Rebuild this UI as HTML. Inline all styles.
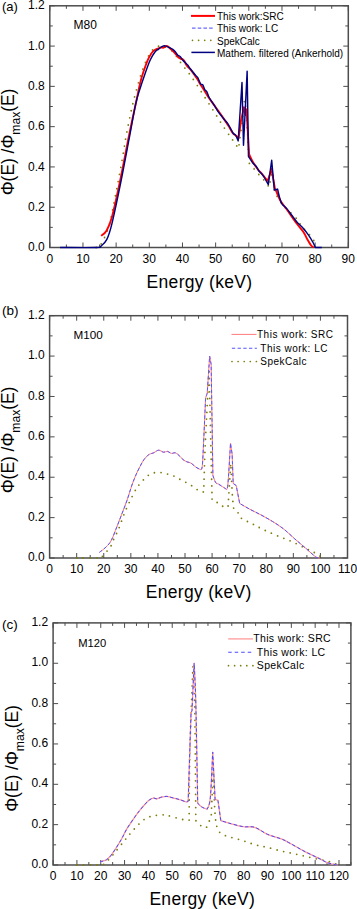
<!DOCTYPE html>
<html><head><meta charset="utf-8"><style>
html,body{margin:0;padding:0;background:#fff;width:357px;height:909px;overflow:hidden}
svg{display:block;font-family:"Liberation Sans", sans-serif}
</style></head><body>
<svg width="357" height="909" viewBox="0 0 357 909" font-family='"Liberation Sans", sans-serif' fill="#000">
<rect width="357" height="909" fill="#fff"/>
<rect x="49.80" y="5.80" width="298.50" height="241.70" fill="none" stroke="#4d4d4d" stroke-width="1.5"/>
<path d="M49.80 247.50 v-5.00 M49.80 5.80 v5.00 M66.38 247.50 v-3.00 M66.38 5.80 v3.00 M82.97 247.50 v-5.00 M82.97 5.80 v5.00 M99.55 247.50 v-3.00 M99.55 5.80 v3.00 M116.13 247.50 v-5.00 M116.13 5.80 v5.00 M132.72 247.50 v-3.00 M132.72 5.80 v3.00 M149.30 247.50 v-5.00 M149.30 5.80 v5.00 M165.88 247.50 v-3.00 M165.88 5.80 v3.00 M182.47 247.50 v-5.00 M182.47 5.80 v5.00 M199.05 247.50 v-3.00 M199.05 5.80 v3.00 M215.63 247.50 v-5.00 M215.63 5.80 v5.00 M232.22 247.50 v-3.00 M232.22 5.80 v3.00 M248.80 247.50 v-5.00 M248.80 5.80 v5.00 M265.38 247.50 v-3.00 M265.38 5.80 v3.00 M281.97 247.50 v-5.00 M281.97 5.80 v5.00 M298.55 247.50 v-3.00 M298.55 5.80 v3.00 M315.13 247.50 v-5.00 M315.13 5.80 v5.00 M331.72 247.50 v-3.00 M331.72 5.80 v3.00 M348.30 247.50 v-5.00 M348.30 5.80 v5.00 M49.80 247.50 h5.00 M348.30 247.50 h-5.00 M49.80 227.36 h3.00 M348.30 227.36 h-3.00 M49.80 207.22 h5.00 M348.30 207.22 h-5.00 M49.80 187.07 h3.00 M348.30 187.07 h-3.00 M49.80 166.93 h5.00 M348.30 166.93 h-5.00 M49.80 146.79 h3.00 M348.30 146.79 h-3.00 M49.80 126.65 h5.00 M348.30 126.65 h-5.00 M49.80 106.51 h3.00 M348.30 106.51 h-3.00 M49.80 86.37 h5.00 M348.30 86.37 h-5.00 M49.80 66.22 h3.00 M348.30 66.22 h-3.00 M49.80 46.08 h5.00 M348.30 46.08 h-5.00 M49.80 25.94 h3.00 M348.30 25.94 h-3.00 M49.80 5.80 h5.00 M348.30 5.80 h-5.00" stroke="#4d4d4d" stroke-width="1" fill="none"/>
<text x="49.80" y="262.90" text-anchor="middle" font-size="12">0</text>
<text x="82.97" y="262.90" text-anchor="middle" font-size="12">10</text>
<text x="116.13" y="262.90" text-anchor="middle" font-size="12">20</text>
<text x="149.30" y="262.90" text-anchor="middle" font-size="12">30</text>
<text x="182.47" y="262.90" text-anchor="middle" font-size="12">40</text>
<text x="215.63" y="262.90" text-anchor="middle" font-size="12">50</text>
<text x="248.80" y="262.90" text-anchor="middle" font-size="12">60</text>
<text x="281.97" y="262.90" text-anchor="middle" font-size="12">70</text>
<text x="315.13" y="262.90" text-anchor="middle" font-size="12">80</text>
<text x="348.30" y="262.90" text-anchor="middle" font-size="12">90</text>
<text x="44.80" y="251.10" text-anchor="end" font-size="12">0.0</text>
<text x="44.80" y="210.82" text-anchor="end" font-size="12">0.2</text>
<text x="44.80" y="170.53" text-anchor="end" font-size="12">0.4</text>
<text x="44.80" y="130.25" text-anchor="end" font-size="12">0.6</text>
<text x="44.80" y="89.97" text-anchor="end" font-size="12">0.8</text>
<text x="44.80" y="49.68" text-anchor="end" font-size="12">1.0</text>
<text x="44.80" y="9.40" text-anchor="end" font-size="12">1.2</text>
<path d="M96.23 247.50 C96.84 247.27 97.84 249.41 99.88 246.09 C101.93 242.77 105.96 235.72 108.50 227.56 C111.05 219.40 112.87 208.39 115.14 197.15 C117.40 185.90 120.17 170.83 122.10 160.09 C124.04 149.34 124.88 142.39 126.75 132.69 C128.62 122.99 130.72 112.25 133.31 101.88 C135.91 91.50 139.34 78.85 142.33 70.45 C145.33 62.06 148.31 55.58 151.29 51.52 C154.28 47.46 156.87 46.25 160.25 46.08 C163.62 45.92 167.98 47.56 171.52 50.51 C175.06 53.47 178.49 59.91 181.47 63.81 C184.46 67.70 186.66 70.05 189.43 73.88 C192.20 77.71 195.29 82.51 198.09 86.77 C200.89 91.03 203.58 95.33 206.21 99.46 C208.85 103.59 211.34 107.48 213.91 111.54 C216.47 115.61 218.97 119.77 221.60 123.83 C224.24 127.89 227.63 132.86 229.73 135.92 C231.83 138.97 232.74 140.04 234.21 142.16 C235.67 144.27 237.80 147.53 238.52 148.60 C239.07 144.51 240.84 132.05 241.83 124.03 C242.83 116.01 244.05 104.39 244.49 100.47 C244.71 101.61 245.59 106.17 245.81 107.31 C246.09 111.41 246.92 122.59 247.47 131.89 C248.03 141.19 248.86 157.90 249.13 163.11 C249.85 163.95 251.78 166.19 253.44 168.14 C255.10 170.09 257.20 172.64 259.08 174.79 C260.96 176.94 263.06 178.98 264.72 181.03 C266.38 183.08 268.31 186.07 269.03 187.07 C269.58 184.49 271.80 174.15 272.35 171.57 C272.74 174.92 274.28 188.35 274.67 191.71 C275.89 193.79 278.68 200.13 281.97 204.20 C285.26 208.26 291.50 212.96 294.40 216.08 C297.31 219.20 297.73 220.68 299.41 222.93 C301.09 225.18 302.81 227.63 304.49 229.57 C306.17 231.52 307.72 232.46 309.50 234.61 C311.27 236.76 314.19 241.16 315.13 242.46" fill="none" stroke="#7d7d0a" stroke-width="1.8" stroke-linecap="round" stroke-linejoin="round" stroke-dasharray="0 7.2"/>
<path d="M101.21 235.82 C102.09 234.98 104.75 233.84 106.52 230.78 C108.28 227.73 109.67 225.28 111.82 217.49 C113.98 209.70 116.52 198.02 119.45 184.05 C122.38 170.09 126.64 147.30 129.40 133.70 C132.16 120.10 134.26 110.81 136.03 102.48 C137.80 94.15 138.79 88.82 140.01 83.75 C141.23 78.68 141.96 76.26 143.36 72.07 C144.76 67.87 146.72 62.10 148.40 58.57 C150.08 55.05 151.48 52.73 153.45 50.92 C155.41 49.10 158.50 48.23 160.18 47.69 C161.86 47.16 162.41 48.00 163.53 47.69 C164.65 47.39 165.62 45.61 166.88 45.88 C168.14 46.15 169.69 48.03 171.09 49.31 C172.49 50.58 174.18 52.29 175.30 53.54 C176.42 54.78 176.98 55.92 177.82 56.76 C178.66 57.60 179.37 58.00 180.34 58.57 C181.32 59.14 182.58 58.94 183.69 60.18 C184.81 61.42 185.92 64.48 187.04 66.02 C188.17 67.57 188.75 67.33 190.43 69.45 C192.11 71.56 195.66 76.53 197.13 78.71 C198.59 80.89 198.17 80.83 199.22 82.54 C200.26 84.25 201.76 86.40 203.39 88.99 C205.03 91.57 206.90 94.93 209.00 98.05 C211.10 101.17 213.67 104.46 216.00 107.72 C218.33 110.97 220.90 114.53 223.00 117.59 C225.10 120.64 226.97 123.46 228.60 126.05 C230.24 128.63 231.41 131.35 232.81 133.10 C234.22 134.84 236.08 135.61 237.03 136.52 C237.98 137.43 238.27 138.20 238.52 138.53 C238.96 135.38 240.73 122.76 241.17 119.60 C241.64 117.55 243.52 109.36 243.99 107.31 C244.22 108.59 245.15 113.69 245.38 114.97 C245.57 114.03 246.30 110.27 246.48 109.33 C246.92 116.81 248.69 146.76 249.13 154.24 C249.71 155.45 251.20 159.04 252.61 161.50 C254.02 163.95 255.91 166.73 257.59 168.95 C259.27 171.16 261.01 172.77 262.70 174.79 C264.38 176.80 266.87 179.99 267.70 181.03 C268.34 179.02 270.88 170.96 271.52 168.95 C272.04 172.00 274.14 184.22 274.67 187.28 C275.58 189.42 278.09 196.47 280.11 200.17 C282.13 203.86 284.01 205.50 286.81 209.43 C289.61 213.36 294.09 219.94 296.89 223.73 C299.69 227.53 301.91 229.67 303.59 232.19 C305.28 234.71 305.75 236.62 307.01 238.84 C308.27 241.05 310.04 244.04 311.15 245.49 C312.27 246.93 313.28 247.16 313.71 247.50" fill="none" stroke="#ff0000" stroke-width="1.9" stroke-linecap="butt" stroke-linejoin="round"/>
<path d="M60.08 247.50 C66.11 247.50 89.38 247.77 96.23 247.50 C103.09 247.23 99.44 247.23 101.21 245.89 C102.98 244.55 105.08 243.07 106.85 239.44 C108.62 235.82 109.61 233.10 111.82 224.14 C114.03 215.17 117.27 199.70 120.11 185.67 C122.96 171.63 126.32 153.51 128.90 139.94 C131.48 126.38 133.75 112.82 135.60 104.29 C137.45 95.77 138.44 93.89 140.01 88.78 C141.59 83.68 143.37 78.44 145.05 73.68 C146.74 68.91 148.42 63.84 150.10 60.18 C151.78 56.52 153.74 53.54 155.14 51.72 C156.54 49.91 157.37 50.15 158.49 49.31 C159.60 48.47 160.71 47.26 161.84 46.69 C162.96 46.12 163.96 45.71 165.22 45.88 C166.48 46.05 168.14 47.12 169.40 47.69 C170.66 48.27 171.80 48.63 172.78 49.31 C173.77 49.98 174.46 50.75 175.30 51.72 C176.14 52.70 176.98 54.31 177.82 55.15 C178.66 55.99 179.50 55.92 180.34 56.76 C181.18 57.60 182.02 59.18 182.86 60.18 C183.70 61.19 184.55 61.96 185.39 62.80 C186.23 63.64 187.21 64.38 187.91 65.22 C188.60 66.06 188.87 66.86 189.56 67.84 C190.26 68.81 191.10 69.82 192.08 71.06 C193.07 72.30 194.52 74.18 195.47 75.29 C196.42 76.40 196.93 76.26 197.79 77.71 C198.65 79.15 199.79 82.77 200.61 83.95 C201.43 85.12 202.00 83.82 202.70 84.76 C203.39 85.70 204.09 88.41 204.79 89.59 C205.49 90.76 206.21 90.53 206.91 91.80 C207.61 93.08 207.95 95.26 209.00 97.24 C210.05 99.22 211.81 101.47 213.21 103.69 C214.62 105.90 216.03 108.46 217.42 110.54 C218.82 112.62 220.32 114.53 221.60 116.18 C222.89 117.82 224.07 119.13 225.12 120.41 C226.17 121.68 226.97 122.42 227.91 123.83 C228.84 125.24 229.79 127.22 230.72 128.87 C231.66 130.51 232.70 132.66 233.51 133.70 C234.32 134.74 234.82 133.90 235.60 135.11 C236.38 136.32 237.76 139.98 238.19 140.95 C238.82 131.22 241.37 92.27 242.00 82.54 C242.25 92.98 243.24 134.74 243.49 145.18 C244.10 132.86 246.53 83.58 247.14 71.26 C247.36 85.46 248.25 142.26 248.47 156.46 C249.16 157.50 251.31 161.03 252.61 162.70 C253.92 164.38 255.25 165.15 256.30 166.53 C257.35 167.91 257.75 169.42 258.92 170.96 C260.08 172.51 261.73 173.51 263.29 175.80 C264.86 178.08 267.47 183.18 268.30 184.66 C268.87 180.60 271.12 164.35 271.69 160.29 C272.13 165.25 273.90 185.13 274.34 190.10 C274.88 189.93 277.05 189.26 277.59 189.09 C277.85 190.23 278.48 193.52 279.18 195.94 C279.88 198.35 280.53 201.48 281.80 203.59 C283.07 205.71 285.15 206.68 286.81 208.63 C288.47 210.57 290.10 213.06 291.78 215.27 C293.46 217.49 294.92 219.67 296.89 221.92 C298.86 224.17 301.62 226.52 303.59 228.77 C305.56 231.02 307.15 233.17 308.70 235.41 C310.25 237.66 311.79 240.25 312.91 242.26 C314.03 244.28 314.98 246.63 315.40 247.50 C316.46 247.50 320.71 247.50 321.77 247.50" fill="none" stroke="#000080" stroke-width="1.45" stroke-linecap="butt" stroke-linejoin="round"/>
<text x="2" y="11.3" font-size="13">(a)</text>
<text x="73.6" y="29.3" font-size="12">M80</text>
<path d="M191 15.9h24" stroke="#ff0000" stroke-width="2"/>
<path d="M192 28.2h22" stroke="#6a6aff" stroke-width="1.2" stroke-dasharray="3.6 2.1"/>
<path d="M192.5 40.3h23" stroke="#7d7d0a" stroke-width="1.7" stroke-linecap="round" stroke-dasharray="0 6.1"/>
<path d="M191.4 52.4h23.5" stroke="#000080" stroke-width="1.5"/>
<text x="217" y="20.1" font-size="10">This work:SRC</text>
<text x="217" y="32.4" font-size="10">This work: LC</text>
<text x="217" y="44.6" font-size="10">SpekCalc</text>
<text x="217" y="56.9" font-size="10">Mathem. filtered (Ankerhold)</text>
<text transform="translate(13.50 195.30) rotate(-90)" font-size="17.5" letter-spacing="-0.05">&#934;(E) /&#934;<tspan font-size="12.2" dy="6.0">max</tspan><tspan dy="-6.0">(E)</tspan></text>
<text x="146.6" y="288.3" font-size="17.5" letter-spacing="0.3">Energy (keV)</text>
<rect x="49.60" y="315.70" width="297.90" height="242.30" fill="none" stroke="#4d4d4d" stroke-width="1.5"/>
<path d="M49.60 558.00 v-5.00 M49.60 315.70 v5.00 M63.14 558.00 v-3.00 M63.14 315.70 v3.00 M76.68 558.00 v-5.00 M76.68 315.70 v5.00 M90.22 558.00 v-3.00 M90.22 315.70 v3.00 M103.76 558.00 v-5.00 M103.76 315.70 v5.00 M117.30 558.00 v-3.00 M117.30 315.70 v3.00 M130.85 558.00 v-5.00 M130.85 315.70 v5.00 M144.39 558.00 v-3.00 M144.39 315.70 v3.00 M157.93 558.00 v-5.00 M157.93 315.70 v5.00 M171.47 558.00 v-3.00 M171.47 315.70 v3.00 M185.01 558.00 v-5.00 M185.01 315.70 v5.00 M198.55 558.00 v-3.00 M198.55 315.70 v3.00 M212.09 558.00 v-5.00 M212.09 315.70 v5.00 M225.63 558.00 v-3.00 M225.63 315.70 v3.00 M239.17 558.00 v-5.00 M239.17 315.70 v5.00 M252.71 558.00 v-3.00 M252.71 315.70 v3.00 M266.25 558.00 v-5.00 M266.25 315.70 v5.00 M279.80 558.00 v-3.00 M279.80 315.70 v3.00 M293.34 558.00 v-5.00 M293.34 315.70 v5.00 M306.88 558.00 v-3.00 M306.88 315.70 v3.00 M320.42 558.00 v-5.00 M320.42 315.70 v5.00 M333.96 558.00 v-3.00 M333.96 315.70 v3.00 M347.50 558.00 v-5.00 M347.50 315.70 v5.00 M49.60 558.00 h5.00 M347.50 558.00 h-5.00 M49.60 537.81 h3.00 M347.50 537.81 h-3.00 M49.60 517.62 h5.00 M347.50 517.62 h-5.00 M49.60 497.43 h3.00 M347.50 497.43 h-3.00 M49.60 477.23 h5.00 M347.50 477.23 h-5.00 M49.60 457.04 h3.00 M347.50 457.04 h-3.00 M49.60 436.85 h5.00 M347.50 436.85 h-5.00 M49.60 416.66 h3.00 M347.50 416.66 h-3.00 M49.60 396.47 h5.00 M347.50 396.47 h-5.00 M49.60 376.27 h3.00 M347.50 376.27 h-3.00 M49.60 356.08 h5.00 M347.50 356.08 h-5.00 M49.60 335.89 h3.00 M347.50 335.89 h-3.00 M49.60 315.70 h5.00 M347.50 315.70 h-5.00" stroke="#4d4d4d" stroke-width="1" fill="none"/>
<text x="49.60" y="573.40" text-anchor="middle" font-size="12">0</text>
<text x="76.68" y="573.40" text-anchor="middle" font-size="12">10</text>
<text x="103.76" y="573.40" text-anchor="middle" font-size="12">20</text>
<text x="130.85" y="573.40" text-anchor="middle" font-size="12">30</text>
<text x="157.93" y="573.40" text-anchor="middle" font-size="12">40</text>
<text x="185.01" y="573.40" text-anchor="middle" font-size="12">50</text>
<text x="212.09" y="573.40" text-anchor="middle" font-size="12">60</text>
<text x="239.17" y="573.40" text-anchor="middle" font-size="12">70</text>
<text x="266.25" y="573.40" text-anchor="middle" font-size="12">80</text>
<text x="293.34" y="573.40" text-anchor="middle" font-size="12">90</text>
<text x="320.42" y="573.40" text-anchor="middle" font-size="12">100</text>
<text x="347.50" y="573.40" text-anchor="middle" font-size="12">110</text>
<text x="44.60" y="561.10" text-anchor="end" font-size="12">0.0</text>
<text x="44.60" y="520.72" text-anchor="end" font-size="12">0.2</text>
<text x="44.60" y="480.33" text-anchor="end" font-size="12">0.4</text>
<text x="44.60" y="439.95" text-anchor="end" font-size="12">0.6</text>
<text x="44.60" y="399.57" text-anchor="end" font-size="12">0.8</text>
<text x="44.60" y="359.18" text-anchor="end" font-size="12">1.0</text>
<text x="44.60" y="318.80" text-anchor="end" font-size="12">1.2</text>
<path d="M76.68 558.00 C80.74 558.00 96.99 558.00 101.06 558.00 C102.05 556.86 105.30 553.25 107.01 551.13 C108.73 549.01 110.17 547.40 111.35 545.28 C112.52 543.16 113.11 540.53 114.05 538.41 C115.00 536.29 116.13 534.48 117.03 532.56 C117.94 530.64 118.30 529.97 119.47 526.90 C120.64 523.84 122.40 518.36 124.07 514.18 C125.75 510.01 127.55 505.94 129.49 501.87 C131.43 497.80 134.00 492.75 135.72 489.75 C137.44 486.76 138.15 485.88 139.78 483.90 C141.41 481.91 143.66 479.52 145.50 477.84 C147.33 476.16 148.75 474.71 150.78 473.80 C152.80 472.89 155.53 472.52 157.66 472.39 C159.78 472.25 161.51 472.59 163.53 472.99 C165.56 473.40 167.79 474.17 169.82 474.81 C171.84 475.45 173.73 475.92 175.69 476.83 C177.65 477.74 179.51 479.15 181.57 480.26 C183.63 481.37 185.98 482.35 188.04 483.49 C190.10 484.64 191.96 485.81 193.92 487.13 C195.88 488.44 198.16 490.56 199.80 491.37 C201.43 492.18 203.07 491.87 203.72 491.97 C203.81 488.91 203.97 481.78 204.24 473.60 C204.50 465.42 204.51 460.41 205.32 442.91 C206.13 425.41 208.48 380.99 209.11 368.60 C209.52 386.40 211.05 453.44 211.55 475.42 C212.05 497.39 212.00 496.28 212.09 500.45 C213.26 500.96 217.01 502.27 219.13 503.48 C221.25 504.69 223.33 507.25 224.82 507.72 C226.31 508.19 227.53 506.54 228.07 506.31 C228.52 499.17 230.33 470.64 230.78 463.50 C231.05 468.85 231.91 488.04 232.40 495.61 C232.90 503.18 233.53 506.71 233.76 508.93 C234.52 509.64 237.14 511.66 238.36 513.17 C239.58 514.69 238.68 516.20 241.07 518.02 C243.46 519.84 248.88 522.09 252.71 524.08 C256.55 526.06 259.89 527.95 264.09 529.93 C268.29 531.92 273.25 534.04 277.90 535.99 C282.55 537.94 287.29 539.56 291.98 541.64 C296.68 543.73 302.09 546.56 306.06 548.51 C310.04 550.46 313.06 551.77 315.81 553.36 C318.57 554.94 321.46 557.23 322.58 558.00" fill="none" stroke="#7d7d0a" stroke-width="1.8" stroke-linecap="round" stroke-linejoin="round" stroke-dasharray="0 6.7"/>
<path d="M99.43 552.35 C100.56 551.44 104.21 548.91 106.20 546.89 C108.19 544.88 109.59 543.53 111.35 540.23 C113.11 536.93 115.00 531.52 116.76 527.11 C118.52 522.70 120.19 518.26 121.91 513.78 C123.62 509.30 125.38 505.03 127.05 500.25 C128.72 495.47 130.39 489.45 131.93 485.11 C133.46 480.77 134.92 477.30 136.26 474.20 C137.61 471.11 138.72 468.95 140.00 466.53 C141.28 464.11 142.45 461.65 143.93 459.67 C145.40 457.68 147.19 455.76 148.83 454.62 C150.46 453.47 152.10 453.54 153.73 452.80 C155.36 452.06 157.00 450.28 158.63 450.18 C160.27 450.08 162.06 451.99 163.53 452.20 C165.00 452.40 166.16 451.19 167.46 451.39 C168.76 451.59 170.06 453.17 171.36 453.41 C172.66 453.64 173.98 452.43 175.29 452.80 C176.60 453.17 177.90 454.48 179.21 455.63 C180.52 456.77 181.83 458.62 183.14 459.67 C184.45 460.71 185.76 461.32 187.07 461.89 C188.37 462.46 189.50 462.22 190.97 463.10 C192.43 463.97 194.23 466.03 195.87 467.14 C197.51 468.25 199.98 469.32 200.80 469.76 C201.06 469.06 201.86 470.44 202.34 465.52 C202.82 460.61 203.15 451.52 203.70 440.28 C204.24 429.04 205.28 405.12 205.59 398.08 C205.86 397.27 206.95 394.04 207.22 393.24 C207.62 387.04 209.25 362.28 209.65 356.08 C209.90 357.46 210.89 362.98 211.14 364.36 C211.44 382.87 212.61 456.91 212.90 475.42 C213.35 476.59 214.62 481.00 215.61 482.48 C216.60 483.96 217.19 483.26 218.86 484.30 C220.53 485.34 224.50 488.00 225.63 488.74 C225.99 488.14 226.99 492.68 227.80 485.11 C228.61 477.54 230.06 450.28 230.51 443.31 C230.78 445.13 231.86 452.40 232.13 454.21 C232.31 459.09 233.03 478.61 233.21 483.49 C233.71 483.83 235.70 485.18 236.19 485.51 C236.78 488.51 239.13 500.49 239.71 503.48 C241.43 504.46 246.44 507.42 250.01 509.34 C253.57 511.26 257.36 512.97 261.11 514.99 C264.86 517.01 268.74 519.13 272.48 521.45 C276.23 523.78 279.89 526.03 283.59 528.92 C287.29 531.82 290.94 535.55 294.69 538.82 C298.44 542.08 302.54 545.48 306.06 548.51 C309.59 551.54 313.51 555.41 315.81 556.99 C318.12 558.57 319.20 557.83 319.88 558.00" fill="none" stroke="#ff7a7a" stroke-width="1.0" stroke-linecap="butt" stroke-linejoin="round"/>
<path d="M99.43 552.35 C100.56 551.44 104.21 548.91 106.20 546.89 C108.19 544.88 109.59 543.53 111.35 540.23 C113.11 536.93 115.00 531.52 116.76 527.11 C118.52 522.70 120.19 518.26 121.91 513.78 C123.62 509.30 125.38 505.03 127.05 500.25 C128.72 495.47 130.39 489.45 131.93 485.11 C133.46 480.77 134.92 477.30 136.26 474.20 C137.61 471.11 138.72 468.95 140.00 466.53 C141.28 464.11 142.45 461.65 143.93 459.67 C145.40 457.68 147.19 455.76 148.83 454.62 C150.46 453.47 152.10 453.54 153.73 452.80 C155.36 452.06 157.00 450.28 158.63 450.18 C160.27 450.08 162.06 451.99 163.53 452.20 C165.00 452.40 166.16 451.19 167.46 451.39 C168.76 451.59 170.06 453.17 171.36 453.41 C172.66 453.64 173.98 452.43 175.29 452.80 C176.60 453.17 177.90 454.48 179.21 455.63 C180.52 456.77 181.83 458.62 183.14 459.67 C184.45 460.71 185.76 461.32 187.07 461.89 C188.37 462.46 189.50 462.22 190.97 463.10 C192.43 463.97 194.23 466.03 195.87 467.14 C197.51 468.25 199.98 469.32 200.80 469.76 C201.06 469.06 201.86 470.44 202.34 465.52 C202.82 460.61 203.15 451.52 203.70 440.28 C204.24 429.04 205.28 405.12 205.59 398.08 C205.86 397.27 206.95 394.04 207.22 393.24 C207.62 387.04 209.25 362.28 209.65 356.08 C209.90 357.46 210.89 362.98 211.14 364.36 C211.44 382.87 212.61 456.91 212.90 475.42 C213.35 476.59 214.62 481.00 215.61 482.48 C216.60 483.96 217.19 483.26 218.86 484.30 C220.53 485.34 224.50 488.00 225.63 488.74 C225.99 488.14 226.99 492.68 227.80 485.11 C228.61 477.54 230.06 450.28 230.51 443.31 C230.78 445.13 231.86 452.40 232.13 454.21 C232.31 459.09 233.03 478.61 233.21 483.49 C233.71 483.83 235.70 485.18 236.19 485.51 C236.78 488.51 239.13 500.49 239.71 503.48 C241.43 504.46 246.44 507.42 250.01 509.34 C253.57 511.26 257.36 512.97 261.11 514.99 C264.86 517.01 268.74 519.13 272.48 521.45 C276.23 523.78 279.89 526.03 283.59 528.92 C287.29 531.82 290.94 535.55 294.69 538.82 C298.44 542.08 302.54 545.48 306.06 548.51 C309.59 551.54 313.51 555.41 315.81 556.99 C318.12 558.57 319.20 557.83 319.88 558.00" fill="none" stroke="#5555ff" stroke-width="1.0" stroke-linecap="butt" stroke-linejoin="round" stroke-dasharray="3.3 2.4"/>
<text x="2" y="315" font-size="13.5">(b)</text>
<text x="73.6" y="339.3" font-size="11.7">M100</text>
<path d="M231.5 334.4h25" stroke="#ff7a7a" stroke-width="1"/>
<path d="M231.9 348.3h25" stroke="#5555ff" stroke-width="1.1" stroke-dasharray="3.3 2.4"/>
<path d="M232 361.5h25" stroke="#7d7d0a" stroke-width="1.7" stroke-linecap="round" stroke-dasharray="0 6.1"/>
<text x="257" y="337.8" font-size="10" letter-spacing="0.5">This work: SRC</text>
<text x="260.3" y="351.6" font-size="10" letter-spacing="0.5">This work: LC</text>
<text x="260.3" y="365.2" font-size="10" letter-spacing="0.5">SpekCalc</text>
<text transform="translate(13.90 493.30) rotate(-90)" font-size="17.5" letter-spacing="-0.05">&#934;(E) /&#934;<tspan font-size="12.2" dy="6.0">max</tspan><tspan dy="-6.0">(E)</tspan></text>
<text x="145.8" y="597.9" font-size="17.5" letter-spacing="0.3">Energy (keV)</text>
<rect x="53.10" y="622.90" width="297.80" height="242.10" fill="none" stroke="#4d4d4d" stroke-width="1.5"/>
<path d="M53.10 865.00 v-5.00 M53.10 622.90 v5.00 M65.01 865.00 v-3.00 M65.01 622.90 v3.00 M76.92 865.00 v-5.00 M76.92 622.90 v5.00 M88.84 865.00 v-3.00 M88.84 622.90 v3.00 M100.75 865.00 v-5.00 M100.75 622.90 v5.00 M112.66 865.00 v-3.00 M112.66 622.90 v3.00 M124.57 865.00 v-5.00 M124.57 622.90 v5.00 M136.48 865.00 v-3.00 M136.48 622.90 v3.00 M148.40 865.00 v-5.00 M148.40 622.90 v5.00 M160.31 865.00 v-3.00 M160.31 622.90 v3.00 M172.22 865.00 v-5.00 M172.22 622.90 v5.00 M184.13 865.00 v-3.00 M184.13 622.90 v3.00 M196.04 865.00 v-5.00 M196.04 622.90 v5.00 M207.96 865.00 v-3.00 M207.96 622.90 v3.00 M219.87 865.00 v-5.00 M219.87 622.90 v5.00 M231.78 865.00 v-3.00 M231.78 622.90 v3.00 M243.69 865.00 v-5.00 M243.69 622.90 v5.00 M255.60 865.00 v-3.00 M255.60 622.90 v3.00 M267.52 865.00 v-5.00 M267.52 622.90 v5.00 M279.43 865.00 v-3.00 M279.43 622.90 v3.00 M291.34 865.00 v-5.00 M291.34 622.90 v5.00 M303.25 865.00 v-3.00 M303.25 622.90 v3.00 M315.16 865.00 v-5.00 M315.16 622.90 v5.00 M327.08 865.00 v-3.00 M327.08 622.90 v3.00 M338.99 865.00 v-5.00 M338.99 622.90 v5.00 M350.90 865.00 v-3.00 M350.90 622.90 v3.00 M53.10 865.00 h5.00 M350.90 865.00 h-5.00 M53.10 844.83 h3.00 M350.90 844.83 h-3.00 M53.10 824.65 h5.00 M350.90 824.65 h-5.00 M53.10 804.48 h3.00 M350.90 804.48 h-3.00 M53.10 784.30 h5.00 M350.90 784.30 h-5.00 M53.10 764.12 h3.00 M350.90 764.12 h-3.00 M53.10 743.95 h5.00 M350.90 743.95 h-5.00 M53.10 723.77 h3.00 M350.90 723.77 h-3.00 M53.10 703.60 h5.00 M350.90 703.60 h-5.00 M53.10 683.42 h3.00 M350.90 683.42 h-3.00 M53.10 663.25 h5.00 M350.90 663.25 h-5.00 M53.10 643.07 h3.00 M350.90 643.07 h-3.00 M53.10 622.90 h5.00 M350.90 622.90 h-5.00" stroke="#4d4d4d" stroke-width="1" fill="none"/>
<text x="53.10" y="880.40" text-anchor="middle" font-size="12">0</text>
<text x="76.92" y="880.40" text-anchor="middle" font-size="12">10</text>
<text x="100.75" y="880.40" text-anchor="middle" font-size="12">20</text>
<text x="124.57" y="880.40" text-anchor="middle" font-size="12">30</text>
<text x="148.40" y="880.40" text-anchor="middle" font-size="12">40</text>
<text x="172.22" y="880.40" text-anchor="middle" font-size="12">50</text>
<text x="196.04" y="880.40" text-anchor="middle" font-size="12">60</text>
<text x="219.87" y="880.40" text-anchor="middle" font-size="12">70</text>
<text x="243.69" y="880.40" text-anchor="middle" font-size="12">80</text>
<text x="267.52" y="880.40" text-anchor="middle" font-size="12">90</text>
<text x="291.34" y="880.40" text-anchor="middle" font-size="12">100</text>
<text x="315.16" y="880.40" text-anchor="middle" font-size="12">110</text>
<text x="338.99" y="880.40" text-anchor="middle" font-size="12">120</text>
<text x="48.10" y="868.00" text-anchor="end" font-size="12">0.0</text>
<text x="48.10" y="827.65" text-anchor="end" font-size="12">0.2</text>
<text x="48.10" y="787.30" text-anchor="end" font-size="12">0.4</text>
<text x="48.10" y="746.95" text-anchor="end" font-size="12">0.6</text>
<text x="48.10" y="706.60" text-anchor="end" font-size="12">0.8</text>
<text x="48.10" y="666.25" text-anchor="end" font-size="12">1.0</text>
<text x="48.10" y="625.90" text-anchor="end" font-size="12">1.2</text>
<path d="M76.92 865.00 C80.89 865.00 96.78 865.00 100.75 865.00 C101.46 864.73 102.69 865.47 105.04 863.39 C107.38 861.30 111.43 856.46 114.80 852.49 C118.18 848.52 122.71 842.74 125.29 839.58 C127.87 836.42 128.58 835.51 130.29 833.53 C132.00 831.54 133.70 829.63 135.53 827.68 C137.36 825.73 139.30 823.51 141.25 821.83 C143.19 820.14 145.22 818.56 147.20 817.59 C149.19 816.61 151.22 816.41 153.16 815.97 C155.11 815.54 156.77 815.13 158.88 814.97 C160.98 814.80 163.76 814.73 165.79 814.97 C167.81 815.20 168.13 815.60 171.03 816.38 C173.93 817.15 180.16 818.97 183.18 819.61 C186.20 820.25 188.14 820.11 189.14 820.21 C189.25 808.71 189.21 776.84 189.85 751.21 C190.49 725.59 192.43 680.60 192.95 666.48 C193.26 674.18 194.38 686.99 194.85 712.68 C195.33 738.37 195.65 802.63 195.81 820.62 C196.60 821.42 198.78 824.35 200.57 825.46 C202.36 826.57 204.74 829.05 206.53 827.27 C208.31 825.49 210.50 816.85 211.29 814.76 C211.61 807.37 212.88 777.78 213.20 770.38 C213.44 776.50 214.15 798.09 214.63 807.10 C215.10 816.11 215.82 821.56 216.06 824.45 C216.97 826.03 217.41 831.34 221.54 833.93 C225.67 836.52 235.19 838.17 240.83 839.98 C246.47 841.80 250.92 843.58 255.37 844.83 C259.81 846.07 263.31 846.44 267.52 847.45 C271.72 848.46 276.41 849.87 280.62 850.88 C284.83 851.89 288.76 852.63 292.77 853.50 C296.78 854.37 300.63 855.22 304.68 856.12 C308.73 857.03 312.98 858.04 317.07 858.95 C321.16 859.86 326.20 860.80 329.22 861.57 C332.24 862.34 333.47 863.02 335.18 863.59 C336.88 864.16 338.75 864.76 339.46 865.00" fill="none" stroke="#7d7d0a" stroke-width="1.8" stroke-linecap="round" stroke-linejoin="round" stroke-dasharray="0 6.7"/>
<path d="M100.03 861.77 C101.11 861.44 104.48 861.03 106.47 859.75 C108.45 858.48 109.52 857.40 111.95 854.11 C114.37 850.81 118.50 844.22 121.00 839.98 C123.50 835.75 124.53 832.69 126.95 828.68 C129.38 824.68 133.36 819.07 135.53 815.97 C137.70 812.88 138.41 812.07 139.99 810.12 C141.56 808.17 143.45 805.95 144.99 804.27 C146.53 802.59 147.80 801.08 149.21 800.04 C150.61 798.99 152.13 798.22 153.40 798.02 C154.67 797.82 155.40 798.99 156.81 798.83 C158.21 798.66 160.13 797.41 161.81 797.01 C163.49 796.61 165.22 796.30 166.91 796.40 C168.59 796.51 170.23 797.21 171.91 797.62 C173.59 798.02 175.33 798.36 177.01 798.83 C178.69 799.30 180.46 799.94 181.99 800.44 C183.52 800.94 185.17 801.72 186.20 801.85 C187.24 801.99 187.85 801.35 188.18 801.25 C188.66 786.49 190.56 727.44 191.04 712.68 C191.20 712.34 191.84 711.00 191.99 710.66 C192.35 702.76 193.78 671.15 194.14 663.25 C194.42 669.87 195.21 679.66 195.81 702.99 C196.40 726.33 197.39 786.55 197.71 803.26 C198.47 803.94 200.65 806.32 202.24 807.30 C203.83 808.27 206.41 808.81 207.24 809.12 C207.76 807.20 209.43 807.10 210.34 797.62 C211.25 788.13 212.32 759.79 212.72 752.22 C213.12 760.09 214.71 791.56 215.10 799.43 C215.58 799.60 217.49 800.27 217.96 800.44 C218.44 803.80 220.34 817.25 220.82 820.62 C222.13 821.02 224.95 822.03 228.68 823.04 C232.42 824.04 238.89 825.96 243.22 826.67 C247.54 827.37 250.60 826.00 254.65 827.27 C258.70 828.55 263.07 832.38 267.52 834.33 C271.96 836.28 277.60 837.49 281.33 838.97 C285.07 840.45 286.14 841.19 289.91 843.21 C293.68 845.23 299.28 848.62 303.97 851.08 C308.65 853.53 314.05 855.99 318.02 857.94 C321.99 859.89 324.53 861.60 327.79 862.78 C331.05 863.96 335.93 864.63 337.56 865.00" fill="none" stroke="#ff9a9a" stroke-width="1.3" stroke-linecap="butt" stroke-linejoin="round"/>
<path d="M100.03 861.77 C101.11 861.44 104.48 861.03 106.47 859.75 C108.45 858.48 109.52 857.40 111.95 854.11 C114.37 850.81 118.50 844.22 121.00 839.98 C123.50 835.75 124.53 832.69 126.95 828.68 C129.38 824.68 133.36 819.07 135.53 815.97 C137.70 812.88 138.41 812.07 139.99 810.12 C141.56 808.17 143.45 805.95 144.99 804.27 C146.53 802.59 147.80 801.08 149.21 800.04 C150.61 798.99 152.13 798.22 153.40 798.02 C154.67 797.82 155.40 798.99 156.81 798.83 C158.21 798.66 160.13 797.41 161.81 797.01 C163.49 796.61 165.22 796.30 166.91 796.40 C168.59 796.51 170.23 797.21 171.91 797.62 C173.59 798.02 175.33 798.36 177.01 798.83 C178.69 799.30 180.46 799.94 181.99 800.44 C183.52 800.94 185.17 801.72 186.20 801.85 C187.24 801.99 187.85 801.35 188.18 801.25 C188.66 786.49 190.56 727.44 191.04 712.68 C191.20 712.34 191.84 711.00 191.99 710.66 C192.35 702.76 193.78 671.15 194.14 663.25 C194.42 669.87 195.21 679.66 195.81 702.99 C196.40 726.33 197.39 786.55 197.71 803.26 C198.47 803.94 200.65 806.32 202.24 807.30 C203.83 808.27 206.41 808.81 207.24 809.12 C207.76 807.20 209.43 807.10 210.34 797.62 C211.25 788.13 212.32 759.79 212.72 752.22 C213.12 760.09 214.71 791.56 215.10 799.43 C215.58 799.60 217.49 800.27 217.96 800.44 C218.44 803.80 220.34 817.25 220.82 820.62 C222.13 821.02 224.95 822.03 228.68 823.04 C232.42 824.04 238.89 825.96 243.22 826.67 C247.54 827.37 250.60 826.00 254.65 827.27 C258.70 828.55 263.07 832.38 267.52 834.33 C271.96 836.28 277.60 837.49 281.33 838.97 C285.07 840.45 286.14 841.19 289.91 843.21 C293.68 845.23 299.28 848.62 303.97 851.08 C308.65 853.53 314.05 855.99 318.02 857.94 C321.99 859.89 324.53 861.60 327.79 862.78 C331.05 863.96 335.93 864.63 337.56 865.00" fill="none" stroke="#4848ff" stroke-width="1.0" stroke-linecap="butt" stroke-linejoin="round" stroke-dasharray="3.3 2.4"/>
<text x="2" y="629" font-size="13.5">(c)</text>
<text x="78.3" y="646.8" font-size="11.2">M120</text>
<path d="M228.2 638.9h24.8" stroke="#ff9a9a" stroke-width="1.3"/>
<path d="M228.2 652.2h24.5" stroke="#4848ff" stroke-width="1.1" stroke-dasharray="3.5 3"/>
<path d="M228.5 665.7h24.5" stroke="#7d7d0a" stroke-width="1.7" stroke-linecap="round" stroke-dasharray="0 6.1"/>
<text x="253.2" y="642.2" font-size="10.5" letter-spacing="0.35">This work: SRC</text>
<text x="256.8" y="655.5" font-size="10.5" letter-spacing="0.35">This work: LC</text>
<text x="256.8" y="669.3" font-size="10.5" letter-spacing="0.35">SpekCalc</text>
<text transform="translate(18.20 811.80) rotate(-90)" font-size="17.5" letter-spacing="-0.05">&#934;(E) /&#934;<tspan font-size="12.2" dy="6.0">max</tspan><tspan dy="-6.0">(E)</tspan></text>
<text x="149.4" y="904.9" font-size="17.5" letter-spacing="0.3">Energy (keV)</text>
</svg>
</body></html>
